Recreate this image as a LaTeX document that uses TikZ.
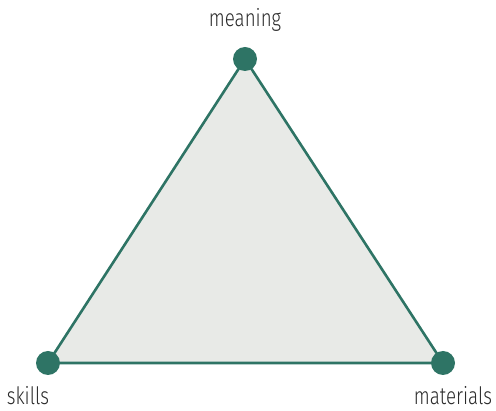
\documentclass[tikz,border=0pt]{standalone}
\usepackage{fontspec}
\setmainfont[FakeStretch=0.78]{Fira Sans Light}
\usepackage{tikz}
\usepackage{xcolor}
\definecolor{teal}{HTML}{2E7465}
\definecolor{softgray}{HTML}{E8EAE7}
\definecolor{inkgray}{HTML}{2A2A2A}

\begin{document}
\begin{tikzpicture}[
    x=1pt, y=-1pt,
    corner/.style={circle, fill=teal, inner sep=0pt, minimum size=24pt},
    tag/.style={text=inkgray, font=\fontsize{24}{28}\selectfont, inner sep=0pt},
    edge/.style={draw=teal, line width=2.6pt, line join=round}
  ]
    \useasboundingbox (0,0) rectangle (496,411);
    \coordinate (top) at (245,59);
    \coordinate (left) at (48,363);
    \coordinate (right) at (443,363);

    \fill[softgray] (top) -- (left) -- (right) -- cycle;
    \draw[edge] (top) -- (left) -- (right) -- cycle;

    \node[corner] (meaningdot) at (top) {};
    \node[corner] (skillsdot) at (left) {};
    \node[corner] (materialsdot) at (right) {};

    \node[tag] (meaning) at (245,20) {meaning};
    \node[tag] (skills) at (28,396) {skills};
    \node[tag] (materials) at (453,396) {materials};
  \end{tikzpicture}
\end{document}
